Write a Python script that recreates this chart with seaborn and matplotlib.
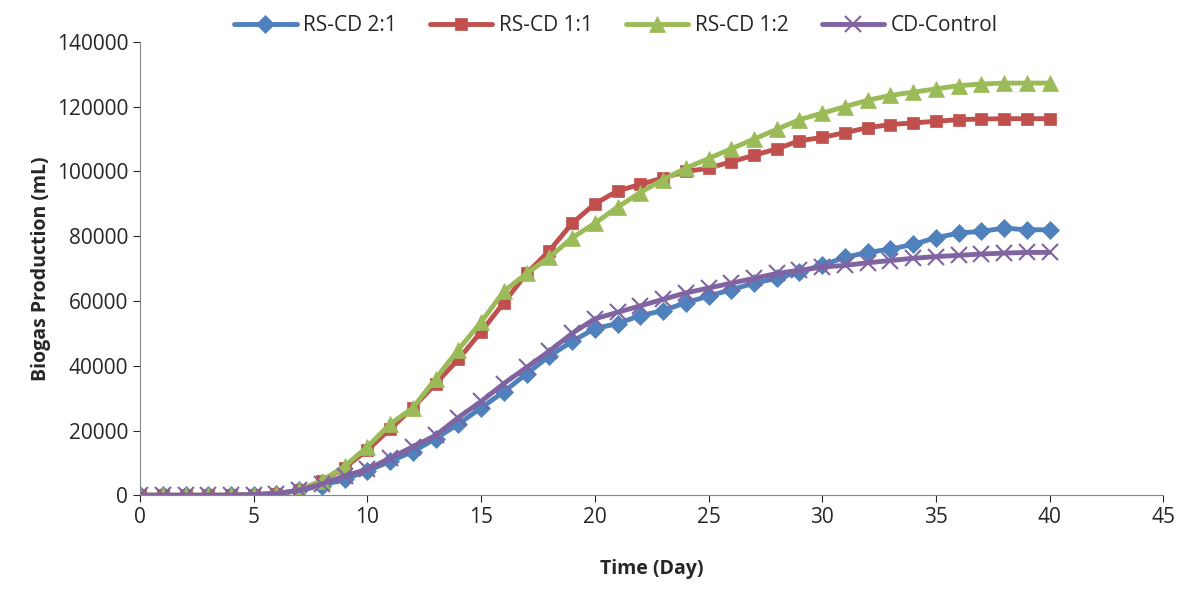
import matplotlib
matplotlib.use("Agg")
import matplotlib.pyplot as plt
import seaborn as sns
import numpy as np
import pandas as pd

days = list(range(41))
rs_cd_2_1 = [0, 0, 0, 0, 0, 200, 500, 1500, 3000, 5000, 7500, 10500, 13500, 17500, 22000,
             27000, 32000, 37500, 43000, 47500, 51500, 53000, 55500, 57000, 59500, 61500,
             63500, 65500, 67000, 69000, 71000, 73500, 75000, 76000, 77500, 79500, 81000,
             81500, 82500, 82000, 82000]
rs_cd_1_1 = [0, 0, 0, 0, 0, 200, 500, 1500, 4500, 8500, 14000, 20500, 27000, 34500, 42000,
             50500, 59500, 68500, 75500, 84000, 90000, 94000, 96000, 98000, 100000, 101000,
             103000, 105000, 107000, 109500, 110500, 112000, 113500, 114500, 115000, 115500,
             116000, 116200, 116300, 116300, 116300]
rs_cd_1_2 = [0, 0, 0, 0, 0, 200, 500, 1500, 4500, 9000, 15000, 22000, 27000, 36000, 45000,
             53500, 63000, 68500, 73500, 79500, 84000, 89000, 93500, 97500, 101000, 104000,
             107000, 110000, 113000, 116000, 118000, 120000, 122000, 123500, 124500, 125500,
             126500, 127000, 127300, 127300, 127300]
cd_control = [0, 0, 0, 0, 0, 200, 500, 1500, 3500, 6000, 8000, 11500, 15000, 18500, 24000,
              29000, 34500, 39500, 44500, 50000, 54500, 56500, 58500, 60500, 62500, 64000,
              65500, 67000, 68500, 69500, 70500, 71000, 71800, 72500, 73200, 73700, 74100,
              74500, 74800, 75000, 75000]

series = {
    "RS-CD 2:1": (rs_cd_2_1, "#4F81BD", "D", 9),
    "RS-CD 1:1": (rs_cd_1_1, "#C0504D", "s", 8),
    "RS-CD 1:2": (rs_cd_1_2, "#9BBB59", "^", 11),
    "CD-Control": (cd_control, "#8064A2", "x", 11),
}

sns.set_style("white")
plt.rcParams["font.family"] = ["Open Sans", "DejaVu Sans"]
fig, ax = plt.subplots(figsize=(11.87, 5.91), dpi=100)

for name, (vals, col, mk, ms) in series.items():
    sns.lineplot(x=days, y=vals, ax=ax, color=col, marker=mk, markersize=ms,
                 linewidth=3.5, markeredgecolor=col, markeredgewidth=1.5 if mk == "x" else 0.5,
                 label=name)

ax.set_xlim(0, 45)
ax.set_ylim(0, 140000)
ax.set_xticks(range(0, 46, 5))
ax.set_yticks(range(0, 140001, 20000))
ax.tick_params(labelsize=15, direction="out", length=5, left=True, bottom=True)
ax.set_xlabel("Time (Day)", fontsize=14, fontweight="bold", labelpad=22)
ax.set_ylabel("Biogas Production (mL)", fontsize=14, fontweight="bold", labelpad=4)
for s in ["top", "right"]:
    ax.spines[s].set_visible(False)
for s in ["left", "bottom"]:
    ax.spines[s].set_color("#868686")
ax.legend(loc="upper center", bbox_to_anchor=(0.465, 1.1), ncol=4, frameon=False,
          fontsize=15, handlelength=3, columnspacing=1.6, handletextpad=0.3)
plt.subplots_adjust(left=0.118, right=0.98, top=0.929, bottom=0.162)
plt.savefig("out.png", dpi=100)
